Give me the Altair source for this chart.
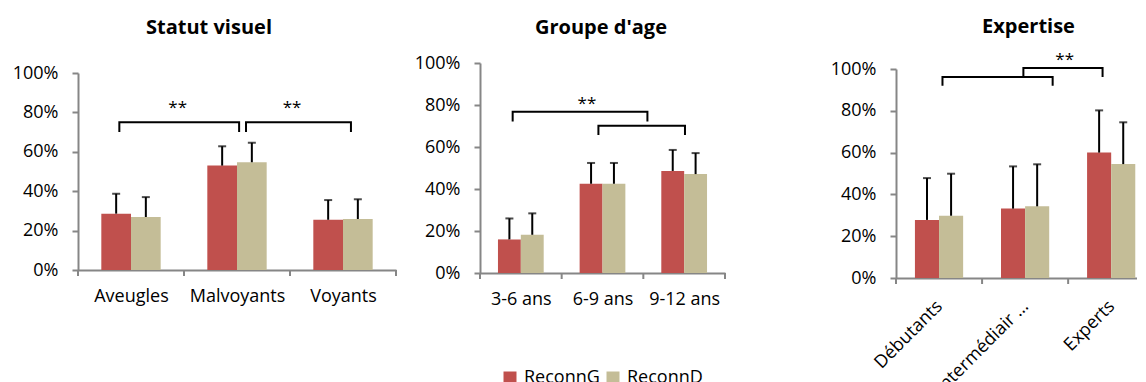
import json
import altair as alt
import pandas as pd

SERIES = ["ReconnG", "ReconnD"]
COLORS = ["#C0504D", "#C4BD97"]

TITLES = ["Statut visuel", "Groupe d'age", "Expertise"]

CATS_1 = ["Aveugles", "Malvoyants", "Voyants"]
G_1 = [0.286, 0.530, 0.255]
D_1 = [0.269, 0.547, 0.259]
G_ERR_1 = [0.101, 0.098, 0.100]
D_ERR_1 = [0.101, 0.099, 0.100]

CATS_2 = ["3-6 ans", "6-9 ans", "9-12 ans"]
G_2 = [0.160, 0.425, 0.486]
D_2 = [0.182, 0.425, 0.471]
G_ERR_2 = [0.100, 0.099, 0.100]
D_ERR_2 = [0.102, 0.099, 0.100]

CATS_3 = ["Débutants", "Intermédiair …", "Experts"]
G_3 = [0.278, 0.332, 0.600]
D_3 = [0.298, 0.343, 0.545]
G_ERR_3 = [0.200, 0.202, 0.202]
D_ERR_3 = [0.201, 0.201, 0.200]

# significance brackets: (x_left, x_right, y_top, y_tip_left, y_tip_right), x in category units
BRACKETS_1 = [(0.39, 1.52, 0.75, 0.70, 0.70), (1.585, 2.575, 0.75, 0.70, 0.70)]
STARS_1 = [(0.94, 0.843), (2.02, 0.843)]
BRACKETS_2 = [(0.40, 2.05, 0.768, 0.722, 0.722), (1.45, 2.51, 0.701, 0.657, 0.657)]
STARS_2 = [(1.31, 0.825)]
BRACKETS_3 = [(0.54, 1.82, 0.962, 0.92, 0.92), (1.48, 2.40, 1.005, 0.962, 0.962)]
STARS_3 = [(1.96, 1.06)]

BAR_W = 0.28
FONT = "Open Sans"
AXIS_GRAY = "#868686"


def panel(title, cats, g, d, gerr, derr, brackets, stars,
          width, range_w, dom_max, height, range_top, angle, title_dx, title_off):
    rows = []
    for i, c in enumerate(cats):
        for s, vals, errs in ((SERIES[0], g, gerr), (SERIES[1], d, derr)):
            left = i + 0.5 - BAR_W if s == SERIES[0] else i + 0.5
            rows.append({"cat": c, "series": s, "x0": left, "x1": left + BAR_W,
                         "xc": left + BAR_W / 2, "value": vals[i],
                         "top": vals[i] + errs[i], "zero": 0.0})
    bars = pd.DataFrame(rows)

    xs = alt.Scale(domain=[0, dom_max], range=[0, range_w], nice=False, zero=False)
    ys = alt.Scale(domain=[0, 1], range=[height, range_top], nice=False)

    expr = " : ".join(
        f"datum.value < {i + 1} ? {json.dumps(c)}" for i, c in enumerate(cats[:-1])
    ) + f" : {json.dumps(cats[-1])}"

    xaxis_kw = dict(values=[0.5, 1.5, 2.5], labelExpr=expr, ticks=False, grid=False,
                    title=None, domainColor=AXIS_GRAY, domainWidth=2,
                    labelFontSize=18, labelFont=FONT, labelColor="#000000",
                    labelOverlap=False, labelFlush=False, labelPadding=17)
    if angle:
        xaxis_kw.update(labelAngle=angle, labelAlign="right", labelBaseline="top",
                        labelPadding=19, labelOffset=-6)
    else:
        xaxis_kw.update(labelAngle=0, labelAlign="center", labelBaseline="top")
    xaxis = alt.Axis(**xaxis_kw)

    yaxis = alt.Axis(values=[0, 0.2, 0.4, 0.6, 0.8, 1.0], format=".0%", grid=False,
                     title=None, domainColor=AXIS_GRAY, domainWidth=2,
                     tickColor=AXIS_GRAY, tickWidth=2, tickSize=6,
                     labelFontSize=18, labelFont=FONT, labelColor="#000000",
                     labelPadding=14, labelFlush=False, labelOverlap=False)

    color = alt.Color("series:N",
                      scale=alt.Scale(domain=SERIES, range=COLORS),
                      legend=alt.Legend(orient="none", legendX=423, legendY=306,
                                        direction="horizontal", title=None,
                                        symbolType="square", symbolSize=169,
                                        symbolStrokeWidth=0, labelFontSize=18,
                                        labelFont=FONT, labelColor="#000000",
                                        labelOffset=5, columnPadding=4,
                                        padding=0))

    rect = alt.Chart(bars).mark_rect().encode(
        x=alt.X("x0:Q", scale=xs, axis=xaxis),
        x2="x1:Q",
        y=alt.Y("value:Q", scale=ys, axis=yaxis),
        y2="zero:Q",
        color=color,
    )
    stem = alt.Chart(bars).mark_rule(color="black", strokeWidth=2).encode(
        x=alt.X("xc:Q", scale=xs, axis=xaxis),
        y=alt.Y("value:Q", scale=ys, axis=yaxis),
        y2="top:Q",
    )
    cap = alt.Chart(bars).mark_tick(color="black", orient="horizontal",
                                    size=8, thickness=2).encode(
        x=alt.X("xc:Q", scale=xs, axis=xaxis),
        y=alt.Y("top:Q", scale=ys, axis=yaxis),
    )
    bnd = pd.DataFrame({"b": [b for b in [0, 1, 2, 3] if b <= dom_max]})
    tk = alt.Chart(bnd).mark_rule(color=AXIS_GRAY, strokeWidth=2).encode(
        x=alt.X("b:Q", scale=xs, axis=xaxis),
        y=alt.value(height),
        y2=alt.value(height + 6),
    )
    brows = []
    for k, (xl, xr, yt, yl, yr) in enumerate(brackets):
        for o, (px, py) in enumerate([(xl, yl), (xl, yt), (xr, yt), (xr, yr)]):
            brows.append({"id": k, "o": o, "bx": px, "by": py})
    br = alt.Chart(pd.DataFrame(brows)).mark_line(color="black", strokeWidth=2).encode(
        x=alt.X("bx:Q", scale=xs, axis=xaxis),
        y=alt.Y("by:Q", scale=ys, axis=yaxis),
        detail="id:N",
        order="o:Q",
    )
    st = alt.Chart(pd.DataFrame({"sx": [s[0] for s in stars], "sy": [s[1] for s in stars],
                                 "t": ["**"] * len(stars)})).mark_text(
        font=FONT, fontSize=17, color="black", baseline="alphabetic", dy=9,
        align="center").encode(
        x=alt.X("sx:Q", scale=xs, axis=xaxis),
        y=alt.Y("sy:Q", scale=ys, axis=yaxis),
        text="t:N",
    )
    return alt.layer(rect, stem, cap, tk, br, st).properties(
        width=width, height=height,
        title=alt.TitleParams(title, font=FONT, fontSize=20, fontWeight="bold",
                              color="#000000", anchor="middle", frame="group",
                              baseline="alphabetic", offset=title_off, dx=title_dx),
    )


p1 = panel(TITLES[0], CATS_1, G_1, D_1, G_ERR_1, D_ERR_1, BRACKETS_1, STARS_1,
           width=318, range_w=318, dom_max=3, height=207, range_top=10, angle=0,
           title_dx=-28, title_off=9)
p2 = panel(TITLES[1], CATS_2, G_2, D_2, G_ERR_2, D_ERR_2, BRACKETS_2, STARS_2,
           width=332, range_w=245, dom_max=3, height=210, range_top=0, angle=0,
           title_dx=-45, title_off=0)
p3 = panel(TITLES[2], CATS_3, G_3, D_3, G_ERR_3, D_ERR_3, BRACKETS_3, STARS_3,
           width=241, range_w=241, dom_max=2.8, height=215, range_top=6, angle=-45,
           title_dx=12, title_off=-2)

chart = alt.hconcat(p1, p2, p3, spacing=84, bounds="flush").properties(
    padding={"left": 4, "top": 9, "right": 0, "bottom": 0},
    background="white",
).configure_view(stroke=None)

chart.save("out.html", embed_options={"renderer": "svg", "actions": False})
